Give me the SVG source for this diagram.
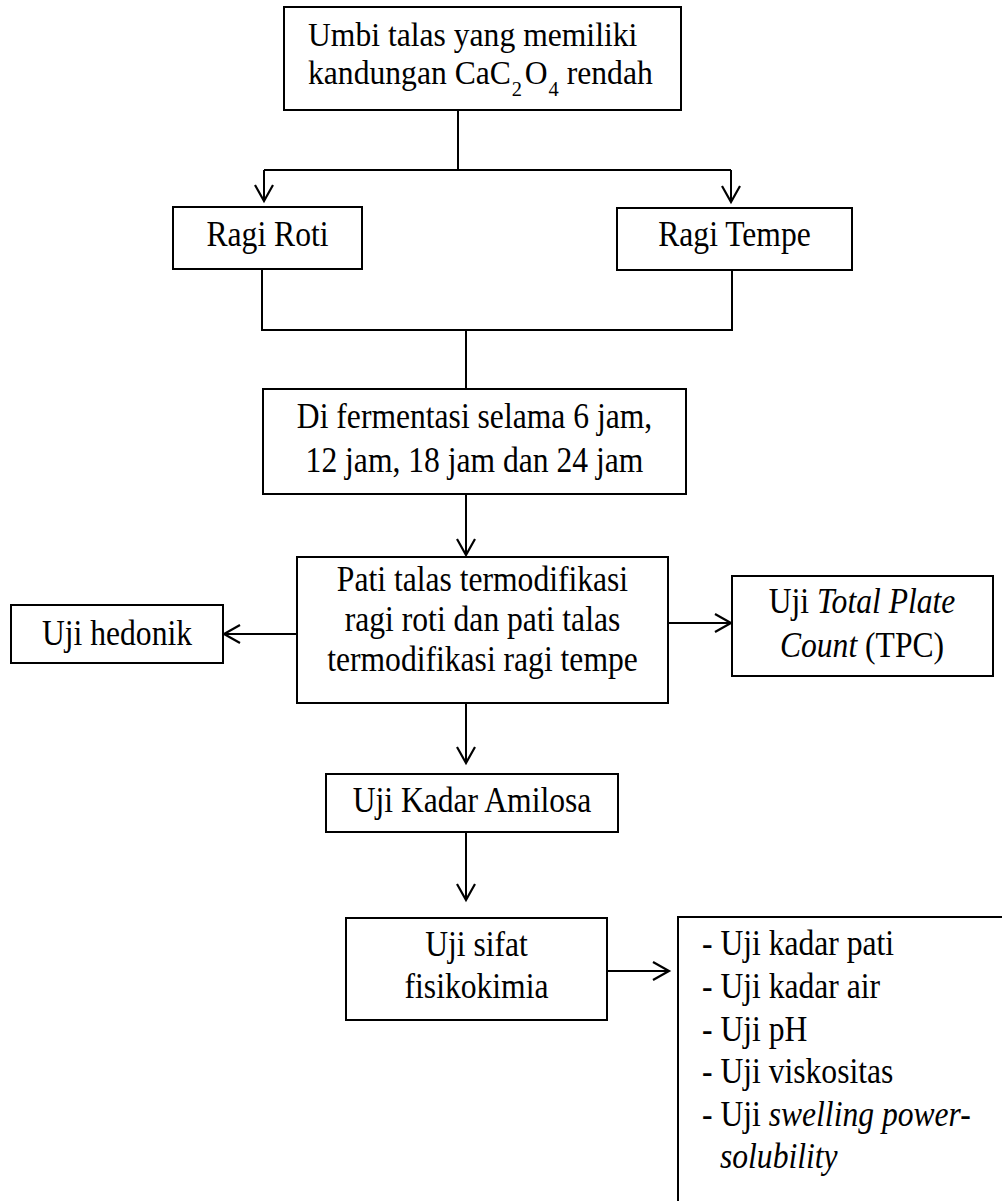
<svg xmlns="http://www.w3.org/2000/svg" width="1002" height="1201" viewBox="0 0 1002 1201">
<style>
.box{fill:#fff;stroke:#000;stroke-width:2}
.t{font-family:"Liberation Serif","Times New Roman",serif;font-size:36px;fill:#000}
.s{font-size:34px}
.c{text-anchor:middle}
.i{font-style:italic}
.sub{font-size:22px}
.ln{fill:none;stroke:#000;stroke-width:2}
</style>
<defs>
<marker id="ah" markerUnits="userSpaceOnUse" viewBox="-19 -11 22 22" refX="0" refY="0" markerWidth="22" markerHeight="22" orient="auto">
<path d="M-16,-9 L0,0 L-16,9" fill="none" stroke="#000" stroke-width="2.2"/>
</marker>
</defs>
<rect width="1002" height="1201" fill="#fff"/>
<g id="connectors">
<path class="ln" d="M458,110 V170"/>
<path class="ln" d="M264,170 H731"/>
<path class="ln" d="M264,170 V201" marker-end="url(#ah)"/>
<path class="ln" d="M731,170 V202" marker-end="url(#ah)"/>
<path class="ln" d="M262,269 V330 H732 V270"/>
<path class="ln" d="M466,330 V389"/>
<path class="ln" d="M466,494 V555" marker-end="url(#ah)"/>
<path class="ln" d="M297,634 H224" marker-end="url(#ah)"/>
<path class="ln" d="M668,623 H731" marker-end="url(#ah)"/>
<path class="ln" d="M466,703 V763" marker-end="url(#ah)"/>
<path class="ln" d="M466,832 V900" marker-end="url(#ah)"/>
<path class="ln" d="M607,971 H669" marker-end="url(#ah)"/>
</g>
<g id="n-umbi">
<rect class="box" x="284" y="7" width="397" height="103"/>
<text class="t s" transform="translate(308,46) scale(0.93,1)">Umbi talas yang memiliki</text>
<text class="t s" transform="translate(308,84) scale(0.93,1)">kandungan CaC<tspan class="sub" dx="1" dy="12">2</tspan><tspan dx="3" dy="-12">O</tspan><tspan class="sub" dx="1" dy="12">4</tspan><tspan dy="-12"> rendah</tspan></text>
</g>
<g id="n-ragi-roti">
<rect class="box" x="173" y="207" width="189" height="62"/>
<text class="t c" transform="translate(267.5,246) scale(0.878,1)">Ragi Roti</text>
</g>
<g id="n-ragi-tempe">
<rect class="box" x="617" y="208" width="235" height="62"/>
<text class="t c" transform="translate(734.5,246) scale(0.878,1)">Ragi Tempe</text>
</g>
<g id="n-fermentasi">
<rect class="box" x="263" y="389" width="423" height="105"/>
<text class="t c" transform="translate(474.5,428) scale(0.878,1)">Di fermentasi selama 6 jam,</text>
<text class="t c" transform="translate(474.5,472) scale(0.878,1)">12 jam, 18 jam dan 24 jam</text>
</g>
<g id="n-pati">
<rect class="box" x="297" y="557" width="371" height="146"/>
<text class="t c" transform="translate(482.5,591) scale(0.878,1)">Pati talas termodifikasi</text>
<text class="t c" transform="translate(482.5,631) scale(0.878,1)">ragi roti dan pati talas</text>
<text class="t c" transform="translate(482.5,671) scale(0.878,1)">termodifikasi ragi tempe</text>
</g>
<g id="n-hedonik">
<rect class="box" x="11" y="605" width="212" height="58"/>
<text class="t c" transform="translate(117,645) scale(0.878,1)">Uji hedonik</text>
</g>
<g id="n-tpc">
<rect class="box" x="732" y="576" width="261" height="100"/>
<text class="t c" transform="translate(862,613) scale(0.878,1)">Uji <tspan class="i">Total Plate</tspan></text>
<text class="t c" transform="translate(862,657) scale(0.878,1)"><tspan class="i">Count</tspan> (TPC)</text>
</g>
<g id="n-amilosa">
<rect class="box" x="326" y="774" width="292" height="58"/>
<text class="t c" transform="translate(472,812) scale(0.878,1)">Uji Kadar Amilosa</text>
</g>
<g id="n-fisikokimia">
<rect class="box" x="346" y="918" width="261" height="102"/>
<text class="t c" transform="translate(476.5,956) scale(0.878,1)">Uji sifat</text>
<text class="t c" transform="translate(476.5,998) scale(0.878,1)">fisikokimia</text>
</g>
<g id="n-list">
<rect class="box" x="678" y="917" width="400" height="400"/>
<text class="t" transform="translate(702,955) scale(0.878,1)">- Uji kadar pati</text>
<text class="t" transform="translate(702,998) scale(0.878,1)">- Uji kadar air</text>
<text class="t" transform="translate(702,1041) scale(0.878,1)">- Uji pH</text>
<text class="t" transform="translate(702,1083) scale(0.878,1)">- Uji viskositas</text>
<text class="t" transform="translate(702,1126) scale(0.878,1)">- Uji <tspan class="i">swelling power-</tspan></text>
<text class="t i" transform="translate(720,1168) scale(0.878,1)">solubility</text>
</g>
</svg>
